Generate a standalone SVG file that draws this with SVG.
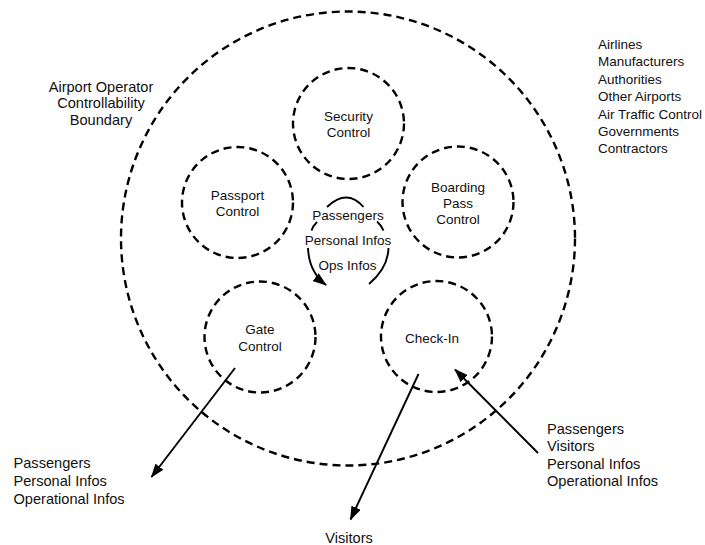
<svg xmlns="http://www.w3.org/2000/svg" width="705" height="545" viewBox="0 0 705 545">
<style>
.b{fill:none;stroke:#000;stroke-width:2.4;stroke-dasharray:8,5}
.t{font-family:"Liberation Sans",Arial,sans-serif;font-size:13.5px;fill:#111}
.l{font-size:14.6px}
.c{text-anchor:middle}
.a{stroke:#000;stroke-width:1.9;fill:none}
</style>
<defs>
<marker id="ah" viewBox="0 0 14 10" refX="13" refY="5" markerWidth="14" markerHeight="10" markerUnits="userSpaceOnUse" orient="auto"><path d="M0,0 L14,5 L0,10 z" fill="#000"/></marker>
</defs>
<rect width="705" height="545" fill="#fff"/>
<g id="boundary">
<circle class="b" cx="348" cy="238.5" r="227"/>
<text class="t l c" x="101" y="91.5">Airport Operator</text>
<text class="t l c" x="101" y="108">Controllability</text>
<text class="t l c" x="101" y="124.5">Boundary</text>
</g>
<g id="security"><circle class="b" cx="348.5" cy="123.5" r="55.5"/>
<text class="t c" x="348.5" y="120.5">Security</text><text class="t c" x="348.5" y="136.5">Control</text></g>
<g id="passport"><circle class="b" cx="237.5" cy="202.5" r="55.5"/>
<text class="t c" x="237.5" y="200">Passport</text><text class="t c" x="237.5" y="215.5">Control</text></g>
<g id="boarding"><circle class="b" cx="458" cy="202" r="55.5"/>
<text class="t c" x="458" y="191.5">Boarding</text><text class="t c" x="458" y="207.5">Pass</text><text class="t c" x="458" y="224">Control</text></g>
<g id="gate"><circle class="b" cx="260" cy="337" r="55.5"/>
<text class="t c" x="260" y="334">Gate</text><text class="t c" x="260" y="350.5">Control</text></g>
<g id="checkin"><circle class="b" cx="436.5" cy="336.5" r="55.5"/>
<text class="t c" x="432" y="342.5">Check-In</text></g>
<g id="center">
<text class="t c" x="348" y="220">Passengers</text>
<text class="t c" x="348" y="245">Personal Infos</text>
<text class="t c" x="347.5" y="270">Ops Infos</text>
</g>
<g id="others">
<text class="t" x="598" y="48.5">Airlines</text>
<text class="t" x="598" y="66">Manufacturers</text>
<text class="t" x="598" y="83.5">Authorities</text>
<text class="t" x="598" y="101">Other Airports</text>
<text class="t" x="598" y="118.5">Air Traffic Control</text>
<text class="t" x="598" y="135.5">Governments</text>
<text class="t" x="598" y="153">Contractors</text>
</g>
<g id="out-left">
<text class="t l" x="13.5" y="468">Passengers</text>
<text class="t l" x="13.5" y="486">Personal Infos</text>
<text class="t l" x="13.5" y="503.5">Operational Infos</text>
</g>
<g id="in-right">
<text class="t l" x="547" y="433.5">Passengers</text>
<text class="t l" x="547" y="451">Visitors</text>
<text class="t l" x="547" y="468.5">Personal Infos</text>
<text class="t l" x="547" y="486">Operational Infos</text>
</g>
<g id="visitors"><text class="t l c" x="349" y="542.5">Visitors</text></g>
<g id="connectors">
<path class="a" d="M327,207 Q347,188 363.5,207"/>
<path class="a" d="M317,222 Q313,226 311.5,230.5"/>
<path class="a" d="M377,221.5 Q381,225 383.5,230.5"/>
<path class="a" d="M308,248 Q309,272 326,285" marker-end="url(#ah)"/>
<path class="a" d="M388.5,248 Q388,268 369,284"/>
<line class="a" x1="235" y1="368" x2="151.5" y2="477" marker-end="url(#ah)"/>
<line class="a" x1="418.5" y1="374" x2="350.5" y2="519.5" marker-end="url(#ah)"/>
<line class="a" x1="538" y1="453" x2="455" y2="369.5" marker-end="url(#ah)"/>
</g>
</svg>
